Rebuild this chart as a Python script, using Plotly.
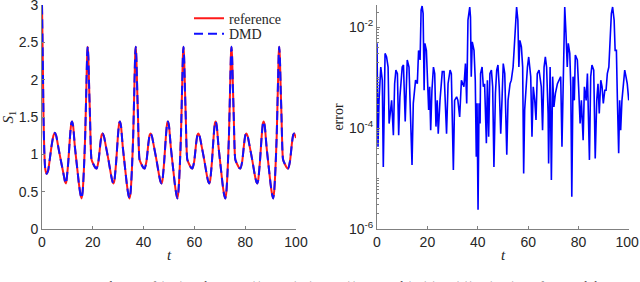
import numpy as np
import plotly.graph_objects as go

# ---- left panel: S1 reference vs DMD ----
t_s1 = [0.0, 0.3, 0.6, 0.9, 1.3, 1.85, 2.4, 3.0, 3.8, 4.5, 5.1, 5.6, 6.4, 7.4, 8.4, 9.1, 9.45,
        9.65, 10.35, 11.05, 11.55, 11.85, 12.25, 12.95, 13.75, 14.55, 15.15,
        15.6, 16.0, 16.5, 17.0, 17.5, 17.8, 18.0, 18.25, 18.6, 18.9, 19.2, 19.5, 20.2, 21.0, 21.5,
        22.2, 23.0, 23.5, 23.9, 24.4, 25.2, 26.2, 27.2, 27.8, 28.1, 28.5, 29.2, 29.9, 30.4, 30.7,
        31.1, 31.8, 32.6, 33.4, 34.0,
        34.5, 34.9, 35.4, 35.9, 36.4, 36.7, 36.9, 37.15, 37.5, 37.8, 38.1, 38.4, 39.1, 39.9, 40.4,
        41.1, 41.9, 42.4, 42.8, 43.3, 44.1, 45.1, 46.1, 46.7, 47.0, 47.4, 48.1, 48.8, 49.3, 49.6,
        50.0, 50.7, 51.5, 52.3, 52.9,
        53.3, 53.7, 54.2, 54.7, 55.2, 55.5, 55.7, 55.95, 56.3, 56.6, 56.9, 57.2, 57.9, 58.7, 59.2,
        59.9, 60.7, 61.2, 61.6, 62.1, 62.9, 63.9, 64.9, 65.5, 65.8, 66.2, 66.9, 67.6, 68.1, 68.4,
        68.8, 69.5, 70.3, 71.1, 71.7,
        72.2, 72.6, 73.1, 73.6, 74.1, 74.4, 74.6, 74.85, 75.2, 75.5, 75.8, 76.1, 76.8, 77.6, 78.1,
        78.8, 79.6, 80.1, 80.5, 81.0, 81.8, 82.8, 83.8, 84.4, 84.7, 85.1, 85.8, 86.5, 87.0, 87.3,
        87.7, 88.4, 89.2, 90.0, 90.6,
        91.0, 91.4, 91.9, 92.4, 92.9, 93.2, 93.4, 93.65, 94.0, 94.3, 94.6, 94.9, 95.6, 96.4, 96.9,
        97.6, 98.4, 98.9, 99.3, 99.8, 100.0]

s1_vals = [3.0, 2.3, 1.5, 1.05, 0.8, 0.74, 0.78, 0.92, 1.12, 1.25, 1.29, 1.25, 1.10, 0.92, 0.75, 0.63, 0.61,
           0.65, 0.90, 1.25, 1.42, 1.44, 1.38, 1.10, 0.85, 0.60, 0.46,
           0.41, 0.50, 0.80, 1.25, 1.95, 2.35, 2.44, 2.30, 1.85, 1.50, 1.10, 0.93, 0.87, 0.82, 0.81,
           0.90, 1.15, 1.26, 1.28, 1.24, 1.10, 0.92, 0.72, 0.63, 0.61, 0.65, 0.90, 1.25, 1.42, 1.44,
           1.38, 1.10, 0.85, 0.60, 0.46,
           0.41, 0.50, 0.80, 1.25, 1.95, 2.35, 2.44, 2.30, 1.85, 1.50, 1.10, 0.93, 0.87, 0.82, 0.81,
           0.90, 1.15, 1.26, 1.28, 1.24, 1.10, 0.92, 0.72, 0.63, 0.61, 0.65, 0.90, 1.25, 1.42, 1.44,
           1.38, 1.10, 0.85, 0.60, 0.46,
           0.41, 0.50, 0.80, 1.25, 1.95, 2.35, 2.44, 2.30, 1.85, 1.50, 1.10, 0.93, 0.87, 0.82, 0.81,
           0.90, 1.15, 1.26, 1.28, 1.24, 1.10, 0.92, 0.72, 0.63, 0.61, 0.65, 0.90, 1.25, 1.42, 1.44,
           1.38, 1.10, 0.85, 0.60, 0.46,
           0.41, 0.50, 0.80, 1.25, 1.95, 2.35, 2.44, 2.30, 1.85, 1.50, 1.10, 0.93, 0.87, 0.82, 0.81,
           0.90, 1.15, 1.26, 1.28, 1.24, 1.10, 0.92, 0.72, 0.63, 0.61, 0.65, 0.90, 1.25, 1.42, 1.44,
           1.38, 1.10, 0.85, 0.60, 0.46,
           0.41, 0.50, 0.80, 1.25, 1.95, 2.35, 2.44, 2.30, 1.85, 1.50, 1.10, 0.93, 0.87, 0.82, 0.81,
           0.90, 1.15, 1.26, 1.28, 1.24, 1.22]

# ---- right panel: DMD error (log10 values) ----
t_err = [0.0, 0.4, 0.8, 1.5, 2.1, 2.5, 3.2, 3.8, 4.4, 4.8, 5.4, 5.8, 6.5, 7.0, 7.5, 8.1, 8.6, 9.1,
         10.0, 10.5, 11.2, 12.0, 12.7, 13.4, 13.9, 14.4, 15.3, 16.0, 16.5, 17.1, 17.5, 17.9, 18.3,
         18.7, 19.0, 19.6, 20.0, 20.5, 20.9, 21.3, 21.8, 22.4, 22.9, 23.4, 23.9, 24.3, 25.0, 25.9,
         26.6, 27.1, 27.6, 28.2, 29.0, 29.5, 30.3, 30.8, 31.6, 32.1, 32.8, 33.5, 34.5, 35.1, 35.6,
         36.1, 36.8, 37.1, 37.4, 37.8, 38.5, 39.0, 39.4, 39.7, 40.1, 40.5, 40.9, 41.1, 41.7, 42.2,
         42.7, 43.4, 43.8, 44.3, 44.8, 45.4, 45.9, 46.4, 47.0, 47.5, 48.0, 48.5, 49.1, 49.6, 50.1,
         50.7, 51.5, 52.0, 52.8, 53.3, 54.0, 54.4, 54.9, 55.4, 55.9, 56.3, 56.7, 57.3, 57.8, 58.2,
         58.6, 59.1, 59.7, 60.2, 61.0, 61.5, 62.0, 62.6, 63.1, 63.6, 64.3, 65.2, 65.7, 66.3, 66.8,
         67.3, 67.9, 68.1, 68.7, 69.2, 69.7, 70.2, 70.8, 71.6, 72.4, 72.9, 73.4, 74.0, 74.5, 75.0,
         75.5, 75.9, 76.5, 76.9, 77.3, 77.8, 78.3, 78.7, 79.5, 80.0, 80.6, 81.1, 81.8, 82.3, 83.0,
         83.5, 84.3, 84.8, 85.3, 86.0, 86.6, 87.2, 87.7, 88.2, 88.8, 89.3, 89.8, 90.4, 90.9, 91.4,
         92.0, 92.5, 93.0, 93.5, 94.1, 94.5, 95.0, 95.4, 95.9, 96.3, 96.7, 97.2, 97.8, 98.3, 98.8,
         99.3, 99.9]

log10_err = [-2.32, -4.37, -3.45, -2.79, -3.05, -4.77, -2.52, -2.59, -2.79, -3.91, -3.64, -3.45,
             -4.14, -3.12, -2.85, -2.92, -4.14, -3.38, -2.79, -2.75, -3.87, -2.65, -2.79, -3.71,
             -4.73, -3.51, -3.05, -3.12, -2.46, -2.65, -1.66, -1.58, -1.73, -3.25, -2.32, -2.46,
             -3.12, -3.64, -3.18, -4.04, -3.25, -2.79, -2.92, -3.97, -3.45, -4.11, -3.45, -2.88,
             -2.88, -3.38, -4.11, -3.12, -2.85, -2.92, -4.83, -3.45, -3.38, -3.45, -3.78, -3.05,
             -3.18, -2.72, -3.51, -1.86, -1.60, -1.80, -2.98, -2.29, -2.46, -3.05, -4.57, -3.51,
             -5.62, -3.51, -3.91, -2.92, -2.79, -3.18, -3.12, -4.30, -3.05, -4.17, -2.92, -2.85,
             -3.18, -4.77, -3.31, -2.85, -2.75, -3.18, -4.11, -3.45, -2.72, -2.92, -4.53, -3.45,
             -3.12, -3.05, -2.79, -2.46, -1.86, -1.60, -1.86, -2.79, -2.26, -2.39, -2.79, -4.90,
             -3.64, -3.12, -2.79, -2.59, -2.98, -4.17, -3.18, -3.45, -3.84, -2.92, -2.85, -3.18,
             -4.04, -2.79, -2.59, -2.79, -3.71, -4.70, -2.79, -5.03, -2.98, -3.58, -3.31, -3.12,
             -3.05, -2.98, -4.37, -2.46, -1.60, -2.13, -2.79, -2.32, -2.52, -3.18, -5.36, -2.98,
             -3.45, -2.55, -2.65, -3.18, -3.91, -3.45, -4.24, -3.18, -3.45, -2.92, -4.63, -2.98,
             -2.75, -2.85, -4.60, -3.45, -3.12, -3.71, -3.05, -3.18, -3.51, -3.25, -3.25, -2.92,
             -2.79, -2.26, -1.73, -1.60, -1.86, -2.46, -2.46, -3.45, -4.50, -3.45, -4.04, -3.45,
             -3.05, -2.85, -2.98, -3.12, -3.45]

x_ticks = [0, 20, 40, 60, 80, 100]
x_ticklabels = ["0", "20", "40", "60", "80", "100"]
x2_ticklabels = ["0", "20", "40", "60", "80", "100&nbsp;"]
s1_ticks = [0, 0.5, 1, 1.5, 2, 2.5, 3]
s1_ticklabels = ["0", "0.5", "1", "1.5", "2", "2.5", "3"]
err_ticks = [1e-6, 1e-4, 1e-2]
err_ticklabels = ["10<sup>-6</sup>", "10<sup>-4</sup>", "10<sup>-2</sup>"]

err_vals = np.power(10.0, np.array(log10_err))

fig = go.Figure()
fig.add_trace(go.Scatter(x=t_s1, y=s1_vals, mode="lines", name="reference", legend="legend",
                         line=dict(color="#ff1a1a", width=2, shape="spline", smoothing=0.6),
                         xaxis="x", yaxis="y", cliponaxis=False))
fig.add_trace(go.Scatter(x=t_s1, y=s1_vals, mode="lines", name="DMD", legend="legend2",
                         line=dict(color="#1010ff", width=2, dash="9px,5px", shape="spline", smoothing=0.6),
                         xaxis="x", yaxis="y", cliponaxis=False))
fig.add_trace(go.Scatter(x=t_err, y=err_vals, mode="lines", showlegend=False,
                         line=dict(color="#0000ff", width=1.6),
                         xaxis="x2", yaxis="y2"))

tick_font = dict(family="Liberation Sans, Arial, sans-serif", size=14, color="#262626")
serif = "Liberation Serif, Times New Roman, serif"
title_font = dict(family=serif, size=15, color="#262626")
axis_common = dict(showline=True, linecolor="#808080", linewidth=1, ticks="inside", ticklen=3,
                   tickcolor="#808080", showgrid=False, zeroline=False, tickfont=tick_font,
                   mirror=False, ticklabeloverflow="allow")

y_dom = [53 / 282, 277 / 282]
leg_common = dict(xanchor="left", yanchor="top", bgcolor="rgba(0,0,0,0)",
                  font=dict(family=serif, size=14, color="#262626"), itemwidth=30)
fig.update_layout(
    width=640, height=282,
    margin=dict(l=0, r=0, t=0, b=0, autoexpand=False),
    paper_bgcolor="white", plot_bgcolor="white",
    xaxis=dict(domain=[42 / 640, 296 / 640], range=[0, 100], tickvals=x_ticks, ticktext=x_ticklabels,
               title=dict(text="<i>t</i>", font=title_font, standoff=0),
               anchor="y", **axis_common),
    yaxis=dict(domain=y_dom, range=[0, 3.0001], tickvals=s1_ticks, ticktext=s1_ticklabels,
               title=dict(text="<i>S</i><sub>1</sub>", font=title_font, standoff=2),
               anchor="x", **axis_common),
    xaxis2=dict(domain=[377 / 640, 629 / 640], range=[0, 100], tickvals=x_ticks, ticktext=x2_ticklabels,
                title=dict(text="<i>t</i>", font=title_font, standoff=0),
                anchor="y2", **axis_common),
    yaxis2=dict(domain=y_dom, type="log", range=[-6, -1.56], tickvals=err_ticks, ticktext=err_ticklabels,
                title=dict(text="error", font=dict(family=serif, size=14, color="#262626"), standoff=2),
                anchor="x2",
                minor=dict(ticks="inside", ticklen=2, tickcolor="#808080", dtick="D1", showgrid=False),
                **axis_common),
    legend=dict(x=189 / 640, y=0.991, **leg_common),
    legend2=dict(x=189 / 640, y=0.936, **leg_common),
    showlegend=True,
)

fig.add_annotation(text="Figure 3:  DMD prediction of (4.3) with input <i>u</i>(<i>t</i>) = sin(<i>t</i>/2) + cos(<i>t</i>) + 2, and (<i>S</i><sub>1</sub>(0), <i>S</i><sub>2</sub>(0)) = (3, 3).  Left: <i>S</i><sub>1</sub> and the",
                   xref="paper", yref="paper", x=0, y=6 / 282, xanchor="left", yanchor="top",
                   showarrow=False, font=dict(family=serif, size=13, color="#444"))

fig.write_html("out.html", config={"displayModeBar": False},
               post_script="document.body.style.margin='0';document.body.style.overflow='hidden';")
